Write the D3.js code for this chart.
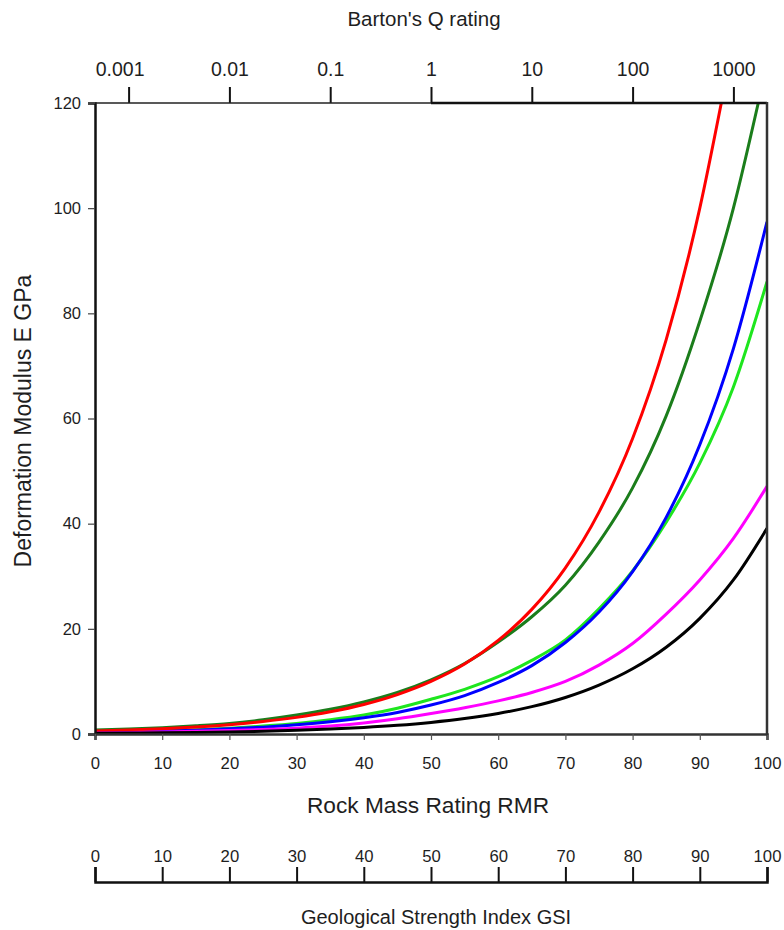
<!DOCTYPE html>
<html>
<head>
<meta charset="utf-8">
<script src="https://cdn.jsdelivr.net/npm/d3@7/dist/d3.min.js"></script>
<style>
  html, body { margin: 0; padding: 0; background: #fff; }
  svg { display: block; }
  text { font-family: "Liberation Sans", Arial, sans-serif; fill: #1e1e1e; }
</style>
</head>
<body>
<svg id="chart" width="784" height="930"></svg>
<script>
// Axis ticks and labels
const rmrTicks = [0, 10, 20, 30, 40, 50, 60, 70, 80, 90, 100];
const gsiTicks = [0, 10, 20, 30, 40, 50, 60, 70, 80, 90, 100];
const eTicks = [0, 20, 40, 60, 80, 100, 120];
const qTicks = [0.001, 0.01, 0.1, 1, 10, 100, 1000];
const qLabels = ["0.001", "0.01", "0.1", "1", "10", "100", "1000"];

// Deformation modulus curves (E in GPa against RMR)
const redRmr   = [0, 5, 10, 15, 20, 25, 30, 35, 40, 45, 50, 55, 60, 65, 70, 75, 80, 85, 90, 93.2];
const redE     = [0.56, 0.75, 1.0, 1.33, 1.78, 2.37, 3.16, 4.22, 5.62, 7.5, 10, 13.3, 17.8, 23.7, 31.6, 42.2, 56.2, 75, 100, 120];

const dkGreenRmr = [0, 5, 10, 15, 20, 25, 30, 35, 40, 45, 50, 55, 60, 65, 70, 75, 80, 85, 90, 95, 98.7];
const dkGreenE   = [0.75, 0.95, 1.2, 1.55, 2.0, 2.7, 3.6, 4.7, 6.1, 7.9, 10.3, 13.4, 17.5, 22.3, 28.3, 36.5, 46.8, 60.5, 78.5, 100, 120];

const rmrGrid = [0, 5, 10, 15, 20, 25, 30, 35, 40, 45, 50, 55, 60, 65, 70, 75, 80, 85, 90, 95, 100];
const blueE    = [0.31, 0.41, 0.55, 0.73, 0.98, 1.3, 1.74, 2.32, 3.1, 4.1, 5.5, 7.3, 9.8, 13.0, 17.4, 23.2, 30.9, 41.2, 55, 73.3, 97.4];
const limeE    = [0.35, 0.45, 0.6, 0.8, 1.1, 1.5, 2.0, 2.7, 3.6, 4.9, 6.6, 8.5, 10.9, 14.0, 17.9, 23.8, 31.0, 40.3, 51.5, 66, 86];
const magentaE = [0.2, 0.3, 0.4, 0.5, 0.65, 0.85, 1.1, 1.5, 2.1, 2.9, 3.9, 5.0, 6.3, 7.9, 10.0, 13.1, 17.2, 22.8, 29.3, 37.2, 47.1];
const blackE   = [0.12, 0.17, 0.22, 0.29, 0.39, 0.52, 0.70, 0.93, 1.24, 1.65, 2.2, 2.93, 3.9, 5.2, 6.95, 9.3, 12.4, 16.5, 22.0, 29.3, 39.1];

const series = [
  { name: "lime",    color: "#1ee61e", rmr: rmrGrid,    e: limeE },
  { name: "blue",    color: "#0000ff", rmr: rmrGrid,    e: blueE },
  { name: "dkgreen", color: "#1b7d1b", rmr: dkGreenRmr, e: dkGreenE },
  { name: "red",     color: "#ff0000", rmr: redRmr,     e: redE },
  { name: "magenta", color: "#ff00ff", rmr: rmrGrid,    e: magentaE },
  { name: "black",   color: "#000000", rmr: rmrGrid,    e: blackE }
];

const svg = d3.select("#chart");
const plotLeft = 95, plotRight = 767, plotTop = 103, plotBottom = 734;

const x = d3.scaleLinear().domain([0, 100]).range([plotLeft, plotRight]);
const y = d3.scaleLinear().domain([0, 120]).range([plotBottom, plotTop]);
// Q relates to RMR as RMR = 15 log10(Q) + 50
const q = d3.scaleLog().domain([0.001, 1000]).range([x(5), x(95)]);

svg.append("defs").append("clipPath").attr("id", "plotclip")
  .append("rect").attr("x", plotLeft).attr("y", plotTop)
  .attr("width", plotRight - plotLeft).attr("height", plotBottom - plotTop);

// Curves
const line = d3.line().x(d => x(d[0])).y(d => y(d[1])).curve(d3.curveMonotoneX);
const curves = svg.append("g").attr("clip-path", "url(#plotclip)");
series.forEach(s => {
  const pts = s.rmr.map((r, i) => [r, s.e[i]]);
  curves.append("path").datum(pts)
    .attr("d", line)
    .attr("fill", "none")
    .attr("stroke", s.color)
    .attr("stroke-width", 3)
    .attr("stroke-linejoin", "round");
});

// Left axis (E)
const yAxis = svg.append("g").attr("transform", `translate(${plotLeft},0)`)
  .call(d3.axisLeft(y).tickValues(eTicks).tickSize(7).tickPadding(7).tickFormat(d3.format("d")));
yAxis.select(".domain").attr("stroke", "#111").attr("stroke-width", 2.5);
yAxis.selectAll(".tick line").attr("stroke", "#444").attr("stroke-width", 1.2);
yAxis.selectAll("text").attr("font-size", 16.5).style("fill", "#1e1e1e");

// Bottom axis (RMR)
const xAxis = svg.append("g").attr("transform", `translate(0,${plotBottom})`)
  .call(d3.axisBottom(x).tickValues(rmrTicks).tickSize(6).tickPadding(17).tickFormat(d3.format("d")));
xAxis.select(".domain").attr("stroke", "#333").attr("stroke-width", 2.5);
xAxis.selectAll(".tick line").attr("stroke", "#555").attr("stroke-width", 1.2);
xAxis.selectAll("text").attr("font-size", 16.7).style("fill", "#1e1e1e");

// Top axis (Barton's Q)
const qAxis = svg.append("g").attr("transform", `translate(0,${plotTop})`)
  .call(d3.axisTop(q).tickValues(qTicks).tickSize(16).tickPadding(11).tickFormat((d, i) => qLabels[i]));
qAxis.select(".domain").remove();
qAxis.selectAll(".tick line").attr("stroke", "#111").attr("stroke-width", 2);
qAxis.selectAll("text").attr("font-size", 19.5).style("fill", "#1e1e1e")
  .attr("dx", (d, i) => i === 0 ? -9 : 0);

// Frame top and right edges
svg.append("line").attr("x1", plotLeft).attr("x2", plotRight).attr("y1", plotTop).attr("y2", plotTop)
  .attr("stroke", "#222").attr("stroke-width", 1.6);
svg.append("line").attr("x1", q(1)).attr("x2", plotRight).attr("y1", plotTop).attr("y2", plotTop)
  .attr("stroke", "#111").attr("stroke-width", 2.6);
svg.append("line").attr("x1", plotRight).attr("x2", plotRight).attr("y1", plotTop - 1).attr("y2", plotBottom + 1)
  .attr("stroke", "#333").attr("stroke-width", 2.5);

// GSI axis
const gsi = d3.scaleLinear().domain([0, 100]).range([plotLeft, plotRight]);
const gAxis = svg.append("g").attr("transform", "translate(0,882)")
  .call(d3.axisTop(gsi).tickValues(gsiTicks).tickSize(15).tickPadding(5).tickFormat(d3.format("d")));
gAxis.select(".domain").attr("stroke", "#111").attr("stroke-width", 2.5);
gAxis.selectAll(".tick line").attr("stroke", "#111").attr("stroke-width", 2);
gAxis.selectAll("text").attr("font-size", 16.7).style("fill", "#1e1e1e");

// Titles
svg.append("text").attr("x", 424).attr("y", 26).attr("text-anchor", "middle")
  .attr("font-size", 20.5).text("Barton's Q rating");
svg.append("text").attr("transform", "translate(31,421) rotate(-90)").attr("text-anchor", "middle")
  .attr("font-size", 23).text("Deformation Modulus E GPa");
svg.append("text").attr("x", 428).attr("y", 813).attr("text-anchor", "middle")
  .attr("font-size", 22.7).text("Rock Mass Rating RMR");
svg.append("text").attr("x", 436).attr("y", 924).attr("text-anchor", "middle")
  .attr("font-size", 20).text("Geological Strength Index GSI");
</script>
</body>
</html>
